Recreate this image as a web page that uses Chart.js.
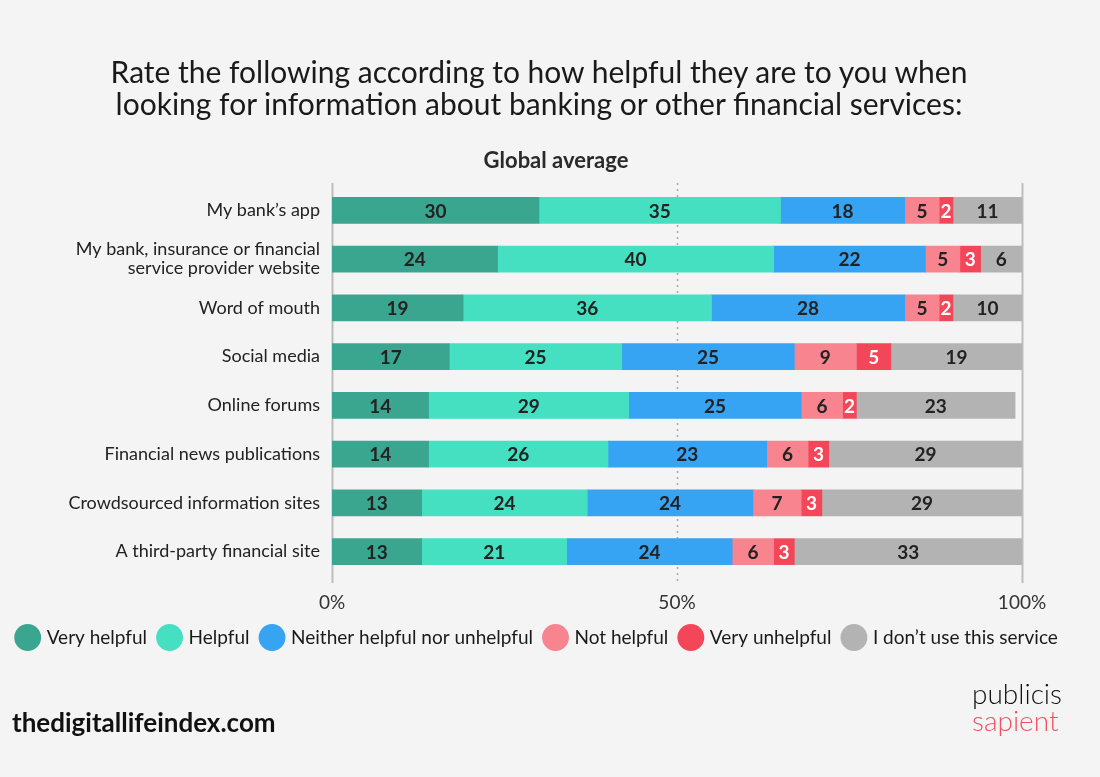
<!DOCTYPE html>
<html>
<head>
<meta charset="utf-8">
<script src="https://cdn.jsdelivr.net/npm/chart.js@4.4.1/dist/chart.umd.min.js"></script>
<style>
  html, body { margin: 0; padding: 0; background: #f4f4f4; }
  #wrap { position: relative; width: 1100px; height: 777px; overflow: hidden; font-family: Lato, sans-serif; color: #1a1a1a; }
  #chart { position: absolute; left: 0; top: 0; }
  .title { position: absolute; left: 0; width: 1078px; top: 55px; text-align: center; font-size: 30px; line-height: 32px; font-weight: 400; }
  .sub { position: absolute; left: 0; width: 1112px; top: 146px; text-align: center; font-size: 22px; font-weight: 700; color: #2a2a2a; }
  .site { position: absolute; left: 12px; top: 706px; font-size: 26px; font-weight: 700; color: #111; }
  .brand { position: absolute; right: 38px; top: 680px; font-size: 28px; line-height: 27px; font-weight: 300; text-align: left; color: #111; }
  .brand span { color: #f4505f; display: block; }
</style>
</head>
<body>
<div id="wrap">
  <canvas id="chart" width="1100" height="777"></canvas>
  <div class="title">Rate the following according to how helpful they are to you when<br>looking for information about banking or other financial services:</div>
  <div class="sub">Global average</div>
  <div class="site">thedigitallifeindex.com</div>
  <div class="brand">publicis<span>sapient</span></div>
</div>
<script>
const categories = [
  "My bank’s app",
  ["My bank, insurance or financial", "service provider website"],
  "Word of mouth",
  "Social media",
  "Online forums",
  "Financial news publications",
  "Crowdsourced information sites",
  "A third-party financial site"
];
const veryHelpful   = [30, 24, 19, 17, 14, 14, 13, 13];
const helpful       = [35, 40, 36, 25, 29, 26, 24, 21];
const neither       = [18, 22, 28, 25, 25, 23, 24, 24];
const notHelpful    = [5, 5, 5, 9, 6, 6, 7, 6];
const veryUnhelpful = [2, 3, 2, 5, 2, 3, 3, 3];
const dontUse       = [11, 6, 10, 19, 23, 29, 29, 33];
const xTicks = [0, 50, 100];

const series = [
  { label: 'Very helpful', data: veryHelpful, color: '#3aa68f', text: '#222' },
  { label: 'Helpful', data: helpful, color: '#45e0c2', text: '#222' },
  { label: 'Neither helpful nor unhelpful', data: neither, color: '#36a3f3', text: '#222' },
  { label: 'Not helpful', data: notHelpful, color: '#f7848f', text: '#222' },
  { label: 'Very unhelpful', data: veryUnhelpful, color: '#f44659', text: '#fff' },
  { label: 'I don’t use this service', data: dontUse, color: '#b3b3b3', text: '#222' }
];

// axis lines at 0 / 100 and the dotted midline
const refLines = {
  id: 'refLines',
  beforeDatasetsDraw(chart) {
    const { ctx, chartArea, scales } = chart;
    ctx.save();
    xTicks.forEach(v => {
      const x = Math.round(scales.x.getPixelForValue(v)) + 0.5;
      ctx.beginPath();
      if (v === 50) {
        ctx.setLineDash([2, 4]);
        ctx.strokeStyle = '#a8a8a8';
        ctx.lineWidth = 1.5;
      } else {
        ctx.setLineDash([]);
        ctx.strokeStyle = '#bdbdbd';
        ctx.lineWidth = 2;
      }
      ctx.moveTo(x, chartArea.top - 3);
      ctx.lineTo(x, chartArea.bottom + 7);
      ctx.stroke();
    });
    ctx.restore();
  }
};

// value labels in the middle of each segment
const valueLabels = {
  id: 'valueLabels',
  afterDatasetsDraw(chart) {
    const { ctx, chartArea } = chart;
    ctx.save();
    ctx.font = 'bold 19px Lato, sans-serif';
    ctx.textAlign = 'center';
    ctx.textBaseline = 'middle';
    chart.data.datasets.forEach((ds, di) => {
      chart.getDatasetMeta(di).data.forEach((bar, i) => {
        const left = Math.max(Math.min(bar.base, bar.x), chartArea.left);
        const right = Math.min(Math.max(bar.base, bar.x), chartArea.right);
        ctx.fillStyle = series[di].text;
        ctx.fillText(ds.data[i], (left + right) / 2, bar.y + 1);
      });
    });
    ctx.restore();
  }
};

new Chart(document.getElementById('chart'), {
  type: 'bar',
  data: {
    labels: categories,
    datasets: series.map(s => ({
      label: s.label,
      data: s.data,
      backgroundColor: s.color,
      borderWidth: 0,
      barThickness: 26
    }))
  },
  options: {
    indexAxis: 'y',
    responsive: false,
    animation: false,
    layout: { padding: { top: 186, right: 24, bottom: 120, left: 0 } },
    scales: {
      x: {
        stacked: true,
        min: 0,
        max: 100,
        afterBuildTicks: s => { s.ticks = xTicks.map(v => ({ value: v })); },
        afterFit: s => { s.height = 39; },
        grid: { display: false },
        border: { display: false },
        ticks: {
          padding: 7,
          color: '#333',
          font: { family: 'Lato', size: 19 },
          callback: v => v + '%'
        }
      },
      y: {
        stacked: true,
        afterFit: s => { s.width = 332; },
        grid: { display: false },
        border: { display: false },
        ticks: {
          padding: 4,
          color: '#222',
          font: { family: 'Lato', size: 18, lineHeight: 1.05 }
        }
      },
      // empty right-hand axis, keeps the plot clear of the right edge
      yRight: {
        type: 'category',
        position: 'right',
        afterFit: s => { s.width = 54; },
        grid: { display: false },
        border: { display: false },
        ticks: { display: false }
      }
    },
    plugins: {
      legend: {
        position: 'bottom',
        labels: {
          usePointStyle: true,
          pointStyle: 'circle',
          boxHeight: 19,
          padding: 13,
          color: '#1a1a1a',
          font: { family: 'Lato', size: 19 }
        }
      },
      tooltip: { enabled: false }
    }
  },
  plugins: [refLines, valueLabels]
});
</script>
</body>
</html>
